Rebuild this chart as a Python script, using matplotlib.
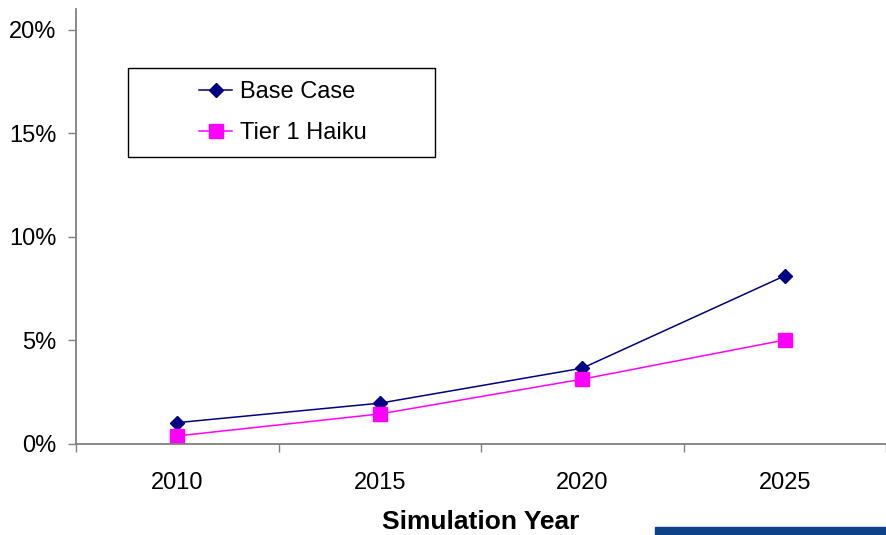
import matplotlib.pyplot as plt
from matplotlib.patches import Rectangle

plt.rcParams['font.family'] = ['Liberation Sans', 'DejaVu Sans']

# chart data
years = ['2010', '2015', '2020', '2025']
base_case = [1.03, 1.97, 3.66, 8.12]
tier1_haiku = [0.39, 1.45, 3.13, 5.02]
y_ticks = [0, 5, 10, 15, 20]

fig = plt.figure(figsize=(8.86, 5.35), dpi=100)
ax = fig.add_axes([76 / 886, 1 - 444 / 535, 1 - 76 / 886, (444 - 9) / 535])

x = list(range(len(years)))
ax.plot(x, base_case, color='#000080', lw=1.1, marker='D', ms=7.2,
        label='Base Case')
ax.plot(x, tier1_haiku, color='#ff00ff', lw=1.1, marker='s', ms=10,
        label='Tier 1 Haiku')

ax.set_xlim(-0.5, len(years) - 0.5)
ax.set_ylim(0, 21.0)

# category boundaries get the tick marks, labels sit in between
ax.set_xticks([i - 0.5 for i in range(len(years) + 1)])
ax.set_xticklabels([])
ax.set_xticks(x, minor=True)
ax.set_xticklabels(years, minor=True)
ax.tick_params(axis='x', which='major', direction='out', length=6,
               width=1, color='#808080')
ax.tick_params(axis='x', which='minor', length=0, pad=20, labelsize=17)

ax.set_yticks(y_ticks)
ax.set_yticklabels([f'{v}%' for v in y_ticks])
ax.tick_params(axis='y', direction='out', length=6, width=1,
               color='#808080', pad=8, labelsize=17)

for side in ['top', 'right']:
    ax.spines[side].set_visible(False)
for side in ['left', 'bottom']:
    ax.spines[side].set_color('#808080')
    ax.spines[side].set_linewidth(1.3)

fig.text(481 / 886, 1 - 529 / 535, 'Simulation Year', ha='center',
         va='baseline', fontsize=19, fontweight='bold')

# legend box drawn separately so the padding can match
fig.patches.append(Rectangle((128 / 886, 1 - 157 / 535), 307 / 886, 89 / 535,
                             transform=fig.transFigure, fill=False,
                             edgecolor='black', lw=1))
ax.legend(loc='center left', bbox_to_anchor=(199 / 886, 1 - 112.5 / 535),
          bbox_transform=fig.transFigure, frameon=False, fontsize=17,
          borderpad=0, borderaxespad=0, handlelength=1.4,
          handletextpad=0.35, labelspacing=0.8)

# cut-off logo strip at the bottom right
fig.patches.append(Rectangle((655 / 886, 0), 231 / 886, 8 / 535,
                             transform=fig.transFigure, color='#0e4288'))

fig.savefig('out.png', dpi=100)
